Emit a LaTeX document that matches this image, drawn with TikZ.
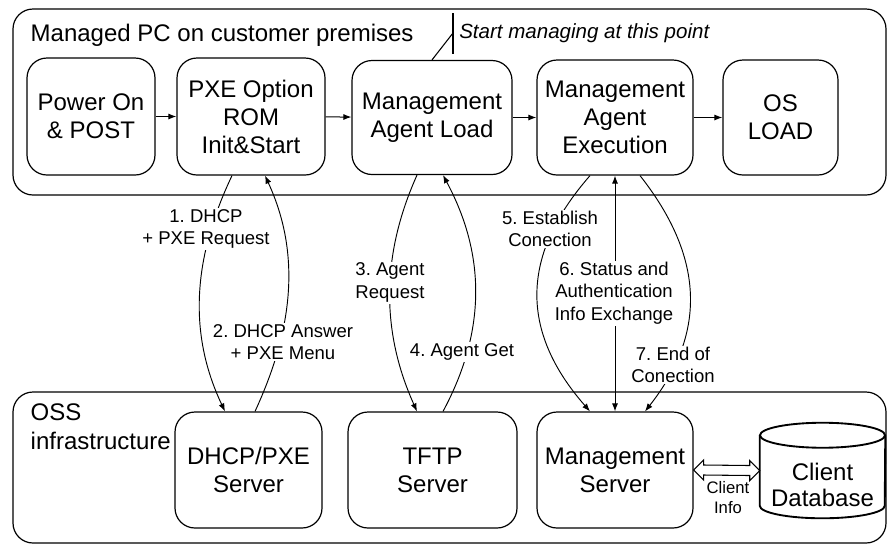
\documentclass[tikz,border=0pt]{standalone}
\usepackage{fontspec}
\setmainfont{Liberation Sans}
\usetikzlibrary{arrows.meta,calc}
\frenchspacing

% one pixel of the layout grid
\def\px{0.75pt}

\begin{document}
\begin{tikzpicture}[x=0.75pt,y=0.75pt,
  container/.style={draw, rounded corners=15pt, line width=0.9pt},
  box/.style={draw, rounded corners=15pt, line width=0.9pt, align=center,
    inner sep=0pt, font=\fontsize{18}{21}\selectfont},
  lbl/.style={fill=white, inner sep=1pt, align=center,
    font=\fontsize{13.9}{16.9}\selectfont},
  tip/.style={-{Latex[length=6pt,width=4.5pt]}, line width=0.7pt},
  both/.style={{Latex[length=6pt,width=4.5pt]}-{Latex[length=6pt,width=4.5pt]}, line width=0.7pt},
  flow/.style={tip, line width=0.75pt}
]
\useasboundingbox (0,0) rectangle (887,-544);

% containers
\draw[container] (13,-9) rectangle (886,-195);
\draw[container] (13,-392) rectangle (886,-543);
\node[anchor=west, font=\fontsize{18}{21}\selectfont] (pctitle) at (26,-35) {Managed PC on customer premises};
\node[anchor=west, align=left, font=\fontsize{18}{21.8}\selectfont] (osstitle) at (26,-427) {OSS\\infrastructure};

% boot sequence on the managed PC
\node[box, minimum width=128*\px, minimum height=117*\px] (power) at (91,-116.5) {Power On\\\& POST};
\node[box, minimum width=148*\px, minimum height=117*\px] (pxe) at (251,-116.5) {PXE Option\\ROM\\Init\&Start};
\node[box, minimum width=160*\px, minimum height=114*\px] (load) at (432,-117.5) {Management\\Agent Load};
\node[box, minimum width=156*\px, minimum height=115*\px] (exec) at (615,-117.5) {Management\\Agent\\Execution};
\node[box, minimum width=115*\px, minimum height=115*\px] (os) at (780.5,-117.5) {OS\\LOAD};

\draw[flow] (power) -- (pxe);
\draw[flow] (pxe) -- (load);
\draw[flow] (load) -- (exec);
\draw[flow] (exec) -- (os);

% annotation
\coordinate (markA) at (453,-13);
\coordinate (markB) at (453,-54);
\coordinate (markC) at (453,-33);
\draw[line width=0.8pt] (markA) -- (markB);
\draw[line width=0.8pt] (markC) -- (load.north);
\node[anchor=west, inner sep=0pt, font=\fontsize{15.4}{18}\selectfont\itshape] (startnote) at (459,-33) {Start managing at this point};

% OSS servers
\node[box, minimum width=147*\px, minimum height=116*\px] (dhcp) at (248.5,-470) {DHCP/PXE\\Server};
\node[box, minimum width=169*\px, minimum height=116*\px] (tftp) at (432.5,-470) {TFTP\\Server};
\node[box, minimum width=156*\px, minimum height=116*\px] (mgmt) at (615,-470) {Management\\Server};

% client database cylinder
\node[minimum width=125*\px, minimum height=95*\px, inner sep=0pt] (db) at (822.5,-470.5) {};
\draw[line width=1.4pt]
  ($(db.north west)+(0,-12.5)$) -- ($(db.south west)+(0,12.5)$)
  arc[start angle=180, end angle=360, x radius=62.5, y radius=12.5]
  -- ($(db.north east)+(0,-12.5)$);
\draw[line width=1.4pt] ($(db.north)+(0,-12.5)$) ellipse[x radius=62.5, y radius=12.5];
\node[align=center, inner sep=0pt, font=\fontsize{18}{20}\selectfont] (dbtext) at (822.5,-485) {Client\\Database};

% client info exchange
\draw[line width=0.8pt]
  (mgmt.east) -- ($(mgmt.east)+(10,10)$) -- ($(mgmt.east)+(10,5)$)
  -- ($(db.west)+(-10,5)$) -- ($(db.west)+(-10,10)$) -- (db.west)
  -- ($(db.west)+(-10,-10)$) -- ($(db.west)+(-10,-5)$)
  -- ($(mgmt.east)+(10,-5)$) -- ($(mgmt.east)+(10,-10)$) -- cycle;
\node[align=center, inner sep=1pt, font=\fontsize{12.5}{15}\selectfont] (infolbl) at (728,-498) {Client\\Info};

% message flows
\draw[tip] ($(pxe.south)+(-19,0)$) .. controls +(-38,-80) and +(-38,80) .. ($(dhcp.north)+(-23.5,0)$);
\draw[tip] ($(dhcp.north)+(6.5,0)$) .. controls +(37,80) and +(37,-80) .. ($(pxe.south)+(14,0)$);
\draw[tip] ($(load.south)+(-15,0)$) .. controls +(-36,-80) and +(-36,80) .. ($(tftp.north)+(-15.5,0)$);
\draw[tip] ($(tftp.north)+(10.5,0)$) .. controls +(43,80) and +(43,-80) .. ($(load.south)+(11,0)$);
\draw[tip] ($(exec.south)+(-25,0)$) .. controls +(-70,-80) and +(-70,80) .. ($(mgmt.north)+(-25,0)$);
\draw[both] (mgmt.north) -- (exec.south);
\draw[tip] ($(exec.south)+(25,0)$) .. controls +(63,-80) and +(63,80) .. ($(mgmt.north)+(30,0)$);

% flow labels
\node[lbl] (l1) at (206,-229) {1. DHCP\\+ PXE Request};
\node[lbl] (l2) at (283,-342) {2. DHCP Answer\\+ PXE Menu};
\node[lbl] (l3) at (390,-282.5) {3. Agent\\Request};
\node[lbl] (l4) at (462,-352) {4. Agent Get};
\node[lbl] (l5) at (550,-229) {5. Establish\\Conection};
\node[lbl] (l6) at (614,-293) {6. Status and\\Authentication\\Info Exchange};
\node[lbl] (l7) at (673,-365) {7. End of\\Conection};
\end{tikzpicture}
\end{document}
